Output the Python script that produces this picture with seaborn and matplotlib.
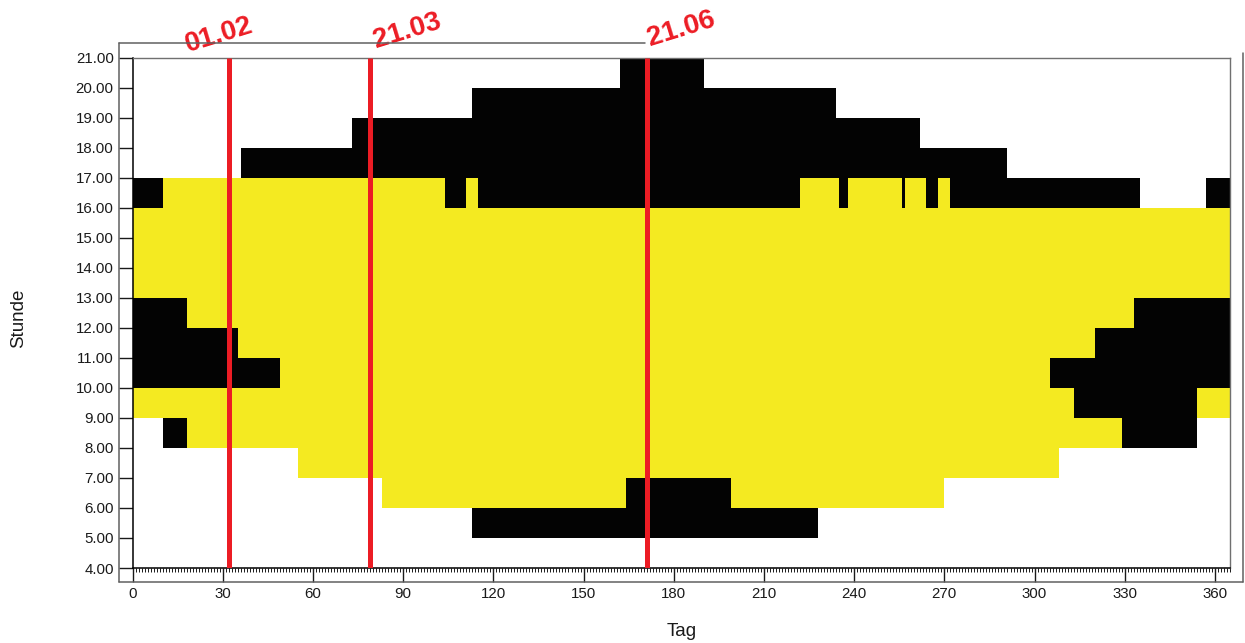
import pandas as pd
import seaborn as sns
import matplotlib.pyplot as plt
from matplotlib.colors import ListedColormap
from matplotlib.lines import Line2D
from matplotlib.ticker import MultipleLocator

# Each span: (start hour of the band, first day, day after last day)
black_spans = [
    (20, 162, 190),
    (19, 113, 234),
    (18, 73, 262),
    (17, 36, 291),
    (16, 0, 10), (16, 104, 111), (16, 115, 222), (16, 235, 238),
    (16, 256, 257), (16, 264, 268), (16, 272, 335), (16, 357, 365),
    (12, 0, 18), (12, 333, 365),
    (11, 0, 35), (11, 320, 365),
    (10, 0, 49), (10, 305, 365),
    (9, 313, 354),
    (8, 10, 18), (8, 329, 354),
    (6, 164, 199),
    (5, 113, 228),
]
yellow_spans = [
    (16, 10, 104), (16, 111, 115), (16, 222, 235), (16, 238, 256),
    (16, 257, 264), (16, 268, 272),
    (15, 0, 365), (14, 0, 365), (13, 0, 365),
    (12, 18, 333),
    (11, 35, 320),
    (10, 49, 305),
    (9, 0, 313), (9, 354, 365),
    (8, 18, 329),
    (7, 55, 308),
    (6, 83, 164), (6, 199, 270),
]

marker_days = [32, 79, 171]
marker_labels = ['01.02', '21.03', '21.06']
marker_offsets = [(-10, 22), (37, 26), (35, 28)]  # pixels from top of each line

n_days = 365
top_hour = 21
band_hours = list(range(20, 3, -1))  # heatmap draws the first row on top
hour_ticks = list(range(4, 22))
day_ticks = list(range(0, 361, 30))

YELLOW = '#f4ea21'
BLACK = '#030303'
RED = '#ec1c24'

sns.set_style('ticks')
plt.rcParams['font.family'] = ['Liberation Sans', 'DejaVu Sans']

# 0 = empty, 1 = yellow, 2 = black
grid = pd.DataFrame(0, index=band_hours, columns=range(n_days))
for h, start, end in yellow_spans:
    grid.loc[h, start:end - 1] = 1
for h, start, end in black_spans:
    grid.loc[h, start:end - 1] = 2

W, H = 1245, 643
fig = plt.figure(figsize=(W / 100, H / 100), dpi=100)
ax = fig.add_axes([132.5 / W, (H - 568) / H, (1230 - 132.5) / W, (568 - 57.5) / H])

sns.heatmap(grid, cmap=ListedColormap(['white', YELLOW, BLACK]), vmin=0, vmax=2,
            cbar=False, ax=ax, xticklabels=False, yticklabels=False)

# heatmap rows run downward from 21.00
ax.set_xlim(0, n_days)
ax.set_ylim(len(band_hours), 0)
ax.set_yticks([top_hour - h for h in hour_ticks])
ax.set_yticklabels([f'{h:.2f}' for h in hour_ticks])
ax.set_xticks(day_ticks)
ax.set_xticklabels([str(d) for d in day_ticks])
ax.xaxis.set_minor_locator(MultipleLocator(1))
ax.tick_params(axis='x', which='major', length=10, width=1, direction='out',
               pad=4, labelsize=10.8, colors='#1a1a1a')
ax.tick_params(axis='x', which='minor', length=3, width=0.7, direction='out', colors='#1a1a1a')
ax.tick_params(axis='y', which='major', length=10, width=1, direction='out',
               pad=3.5, labelsize=10.8, colors='#1a1a1a', rotation=0)

for name, spine in ax.spines.items():
    spine.set_visible(True)
    if name in ('left', 'bottom'):
        spine.set_color('black')
        spine.set_linewidth(1.1)
    else:
        spine.set_color('#707070')
        spine.set_linewidth(1.0)

ax.set_xlabel('Tag', fontsize=13.5, va='center', color='#1a1a1a')
ax.set_ylabel('Stunde', fontsize=13.5, va='center', color='#1a1a1a')
ax.xaxis.set_label_coords(0.5, -0.125)
ax.yaxis.set_label_coords(-0.104, 0.49)

# red date markers
ax.vlines(marker_days, 0, len(band_hours), color=RED, linewidth=3.6, zorder=5)
for day, label, (dx, dy) in zip(marker_days, marker_labels, marker_offsets):
    ax.annotate(label, xy=(day, 0), xytext=(dx, dy), textcoords='offset pixels',
                ha='center', va='center', rotation=17, rotation_mode='anchor',
                fontsize=20, fontweight='bold', color=RED, annotation_clip=False)


def frame_line(x0, y0, x1, y1):
    fig.add_artist(Line2D([x0 / W, x1 / W], [1 - y0 / H, 1 - y1 / H],
                          transform=fig.transFigure, color='#606060', linewidth=1.1))


# outer chart frame
frame_line(118.5, 43, 118.5, 582)
frame_line(118.5, 582, 1243, 582)
frame_line(1243, 53, 1243, 582)
frame_line(118.5, 43, 645, 43)

fig.savefig('out.png', dpi=100)
plt.close(fig)
